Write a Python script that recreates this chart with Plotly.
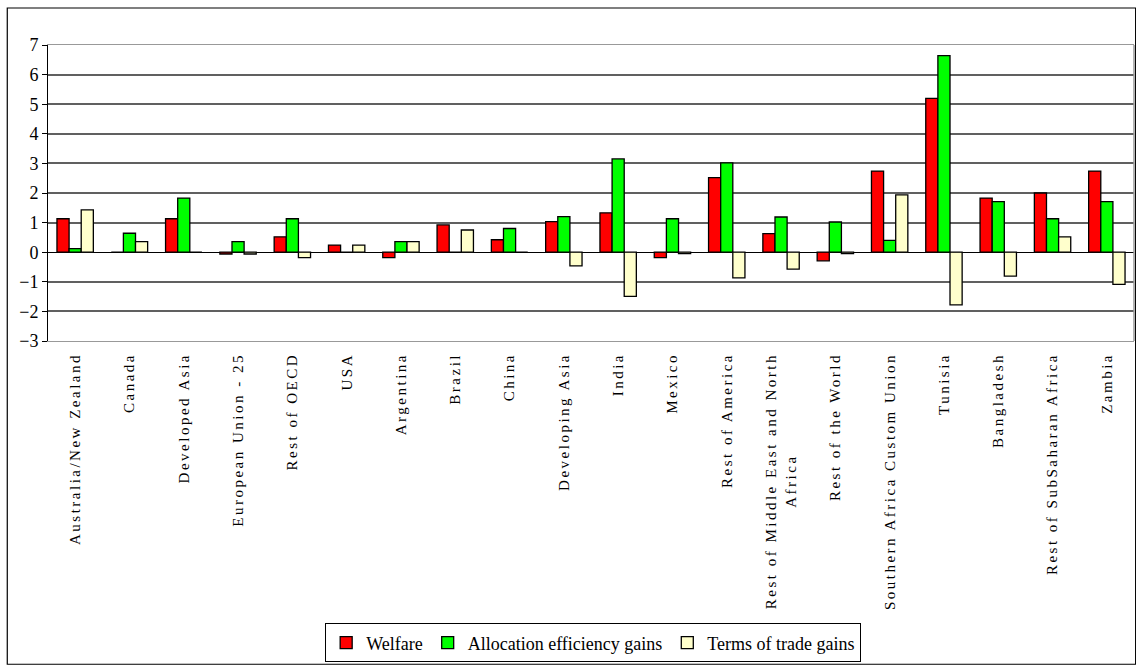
import plotly.graph_objects as go

categories = ["Australia/New Zealand", "Canada", "Developed Asia", "European Union - 25",
              "Rest of OECD", "USA", "Argentina", "Brazil", "China", "Developing Asia",
              "India", "Mexico", "Rest of America", "Rest of Middle East and North<br>Africa",
              "Rest of the World", "Southern Africa Custom Union", "Tunisia", "Bangladesh",
              "Rest of SubSaharan Africa", "Zambia"]
welfare = [1.13, 0.0, 1.13, -0.06, 0.52, 0.24, -0.18, 0.92, 0.42, 1.03,
           1.33, -0.18, 2.52, 0.63, -0.29, 2.74, 5.2, 1.83, 2.0, 2.74]
allocation = [0.12, 0.64, 1.83, 0.36, 1.13, 0.0, 0.36, 0.0, 0.80, 1.2,
              3.15, 1.13, 3.02, 1.19, 1.02, 0.40, 6.64, 1.71, 1.13, 1.71]
terms_of_trade = [1.43, 0.36, 0.0, -0.06, -0.18, 0.24, 0.36, 0.75, 0.0, -0.46,
                  -1.49, -0.05, -0.87, -0.57, -0.05, 1.94, -1.78, -0.81, 0.52, -1.09]
y_ticks = [-3, -2, -1, 0, 1, 2, 3, 4, 5, 6, 7]
y_min, y_max = -3, 7

FONT = "Liberation Serif, Times New Roman, serif"
n = len(categories)

fig = go.Figure()
for name, vals, col in [("Welfare", welfare, "#FF0000"),
                        ("Allocation efficiency gains", allocation, "#00FF00"),
                        ("Terms of trade gains", terms_of_trade, "#FFFFCC")]:
    fig.add_trace(go.Bar(x=categories, y=vals, name=name,
                         marker=dict(color=col, line=dict(color="#000000", width=1.3))))

fig.update_layout(
    width=1136, height=665,
    paper_bgcolor="white", plot_bgcolor="white",
    margin=dict(l=48, r=2, t=45, b=324, autoexpand=False),
    barmode="group", bargap=0.33, bargroupgap=0,
    font=dict(family=FONT, color="black"),
    showlegend=True,
    legend=dict(orientation="h", x=0.502, xanchor="center", y=-1.02, yanchor="middle",
                bordercolor="black", borderwidth=1, font=dict(size=18, family=FONT),
                itemwidth=30, traceorder="normal", tracegroupgap=0),
    xaxis=dict(tickangle=-90, tickfont=dict(size=15, family=FONT), ticks="",
               ticklabelstandoff=5, automargin=False, showline=True,
               linecolor="#999999", mirror=True, showgrid=False,
               type="category", categoryorder="array", categoryarray=categories,
               range=[-0.5, n - 0.5]),
    yaxis=dict(range=[y_min, y_max], tickvals=y_ticks, tickfont=dict(size=18, family=FONT),
               ticks="outside", ticklen=5, tickcolor="black", automargin=False,
               showgrid=True, gridcolor="#606060", gridwidth=1.5,
               zeroline=True, zerolinecolor="black", zerolinewidth=1.2,
               showline=True, linecolor="black", mirror=False),
)
# outer chart frame
fig.add_shape(type="rect", xref="paper", yref="paper",
              x0=-0.0375, x1=1.0015, y0=-1.092, y1=1.125,
              line=dict(color="black", width=1.2), layer="below")
# right plot border in gray
fig.add_shape(type="line", xref="paper", yref="paper", x0=1, x1=1, y0=0, y1=1,
              line=dict(color="#999999", width=1.5))

js = """
document.body.style.margin = '0';
document.body.style.overflow = 'hidden';
var gd = document.getElementById('{plot_id}');
function sp(){
  gd.querySelectorAll('.xtick text').forEach(function(t){
    t.setAttribute('letter-spacing','2.5px'); t.style.letterSpacing='2.5px';
    var ts = t.querySelectorAll('tspan.line');
    if (ts.length > 1) {
      var lens = [], mx = 0;
      ts.forEach(function(s){ var l = s.getComputedTextLength(); lens.push(l); if (l > mx) mx = l; });
      ts.forEach(function(s, i){
        var x0 = parseFloat(s.getAttribute('x'));
        if (!s.dataset.ox) s.dataset.ox = x0;
        s.setAttribute('x', parseFloat(s.dataset.ox) - (mx - lens[i]) / 2);
      });
    }
  });
}
sp();
gd.on('plotly_afterplot', sp);
"""
fig.write_html("out.html", post_script=js, config={"displayModeBar": False})
